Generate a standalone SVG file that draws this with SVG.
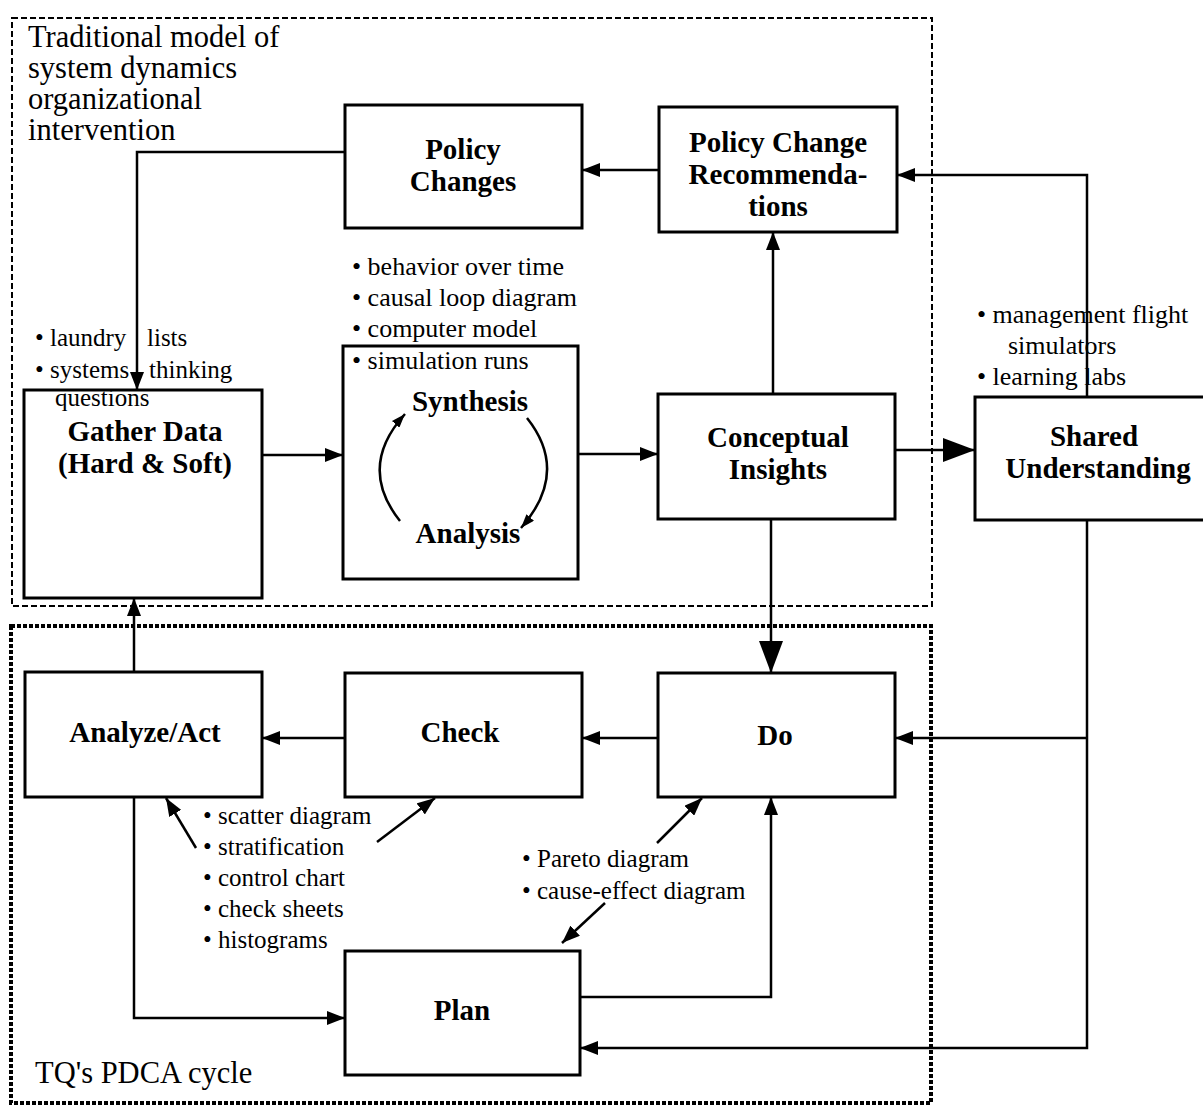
<svg xmlns="http://www.w3.org/2000/svg" width="1203" height="1108" viewBox="0 0 1203 1108">
<style>
.node{fill:#fff;stroke:#000;stroke-width:3}
.lbl{font-family:"Liberation Serif","Times New Roman",serif;font-weight:bold;font-size:29px;text-anchor:middle;fill:#000}
.txt{font-family:"Liberation Serif","Times New Roman",serif;font-size:25px;fill:#000}
.txt2{font-family:"Liberation Serif","Times New Roman",serif;font-size:26px;fill:#000}
.ttl{font-family:"Liberation Serif","Times New Roman",serif;font-size:30.5px;fill:#000}
.con{fill:none;stroke:#000;stroke-width:2.5}
</style>
<defs>
<marker id="ah" markerUnits="userSpaceOnUse" markerWidth="20" markerHeight="14" refX="18" refY="7" orient="auto"><path d="M0,0 L18,7 L0,14 z" fill="#000"/></marker>
<marker id="ahb" markerUnits="userSpaceOnUse" markerWidth="34" markerHeight="24" refX="32" refY="12" orient="auto"><path d="M0,0 L32,12 L0,24 z" fill="#000"/></marker>
<marker id="ahs" markerUnits="userSpaceOnUse" markerWidth="16" markerHeight="10" refX="14" refY="5" orient="auto"><path d="M0,0 L14,5 L0,10 z" fill="#000"/></marker>
</defs>
<g id="regions">
<rect x="12" y="18" width="920" height="588" fill="none" stroke="#000" stroke-width="2" stroke-dasharray="6 3"/>
<rect x="11" y="626" width="920" height="477" fill="none" stroke="#000" stroke-width="4" stroke-dasharray="4 2"/>
<text class="ttl" x="28" y="47">Traditional model of</text>
<text class="ttl" x="28" y="78">system dynamics</text>
<text class="ttl" x="28" y="109">organizational</text>
<text class="ttl" x="28" y="140">intervention</text>
<text class="ttl" x="35" y="1083">TQ's PDCA cycle</text>
</g>
<g id="policy-changes">
<rect class="node" x="345" y="105" width="237" height="123"/>
<text class="lbl" x="463" y="159">Policy</text>
<text class="lbl" x="463" y="191">Changes</text>
</g>
<g id="policy-change-recommendations">
<rect class="node" x="659" y="107" width="238" height="125"/>
<text class="lbl" x="778" y="152">Policy Change</text>
<text class="lbl" x="778" y="184">Recommenda-</text>
<text class="lbl" x="778" y="216">tions</text>
</g>
<g id="gather-data">
<rect class="node" x="24" y="390" width="238" height="208"/>
<text class="lbl" x="145" y="441">Gather Data</text>
<text class="lbl" x="145" y="473">(Hard &amp; Soft)</text>
</g>
<g id="synthesis-analysis">
<rect class="node" x="343" y="346" width="235" height="233"/>
<text class="lbl" x="470" y="411">Synthesis</text>
<text class="lbl" x="468" y="543">Analysis</text>
<path class="con" d="M400,521 Q357,467 405,414" marker-end="url(#ahs)"/>
<path class="con" d="M527,418 Q570,472 521,528" marker-end="url(#ahs)"/>
</g>
<g id="conceptual-insights">
<rect class="node" x="658" y="394" width="237" height="125"/>
<text class="lbl" x="778" y="447">Conceptual</text>
<text class="lbl" x="778" y="479">Insights</text>
</g>
<g id="shared-understanding">
<rect class="node" x="975" y="397" width="240" height="123"/>
<text class="lbl" x="1094" y="446">Shared</text>
<text class="lbl" x="1098" y="478">Understanding</text>
</g>
<g id="analyze-act">
<rect class="node" x="25" y="672" width="237" height="125"/>
<text class="lbl" x="145" y="742">Analyze/Act</text>
</g>
<g id="check">
<rect class="node" x="345" y="673" width="237" height="124"/>
<text class="lbl" x="460" y="742">Check</text>
</g>
<g id="do">
<rect class="node" x="658" y="673" width="237" height="124"/>
<text class="lbl" x="775" y="745">Do</text>
</g>
<g id="plan">
<rect class="node" x="345" y="951" width="235" height="124"/>
<text class="lbl" x="462" y="1020">Plan</text>
</g>
<g id="annotations">
<text class="txt2" x="352" y="275">• behavior over time</text>
<text class="txt2" x="352" y="306">• causal loop diagram</text>
<text class="txt2" x="352" y="337">• computer model</text>
<text class="txt2" x="352" y="369">• simulation runs</text>
<text class="txt" x="35" y="346">• laundry</text>
<text class="txt" x="147" y="346">lists</text>
<text class="txt" x="35" y="378">• systems</text>
<text class="txt" x="149" y="378">thinking</text>
<text class="txt" x="55" y="406">questions</text>
<text class="txt2" x="977" y="323">• management flight</text>
<text class="txt2" x="1008" y="354">simulators</text>
<text class="txt2" x="977" y="385">• learning labs</text>
<text class="txt" x="203" y="824">• scatter diagram</text>
<text class="txt" x="203" y="855">• stratification</text>
<text class="txt" x="203" y="886">• control chart</text>
<text class="txt" x="203" y="917">• check sheets</text>
<text class="txt" x="203" y="948">• histograms</text>
<text class="txt" x="522" y="867">• Pareto diagram</text>
<text class="txt" x="522" y="899">• cause-effect diagram</text>
</g>
<g id="connectors">
<path class="con" d="M659,170 L582,170" marker-end="url(#ah)"/>
<path class="con" d="M345,152 L137,152 L137,390" marker-end="url(#ah)"/>
<path class="con" d="M262,455 L343,455" marker-end="url(#ah)"/>
<path class="con" d="M578,454 L658,454" marker-end="url(#ah)"/>
<path class="con" d="M773,394 L773,232" marker-end="url(#ah)"/>
<path class="con" d="M771,519 L771,673" marker-end="url(#ahb)" stroke-width="3"/>
<path class="con" d="M895,450 L975,450" marker-end="url(#ahb)"/>
<path class="con" d="M1087,397 L1087,175 L897,175" marker-end="url(#ah)"/>
<path class="con" d="M1087,520 L1087,1048 L580,1048" marker-end="url(#ah)"/>
<path class="con" d="M1087,738 L895,738" marker-end="url(#ah)"/>
<path class="con" d="M658,738 L582,738" marker-end="url(#ah)"/>
<path class="con" d="M345,738 L262,738" marker-end="url(#ah)"/>
<path class="con" d="M134,672 L134,598" marker-end="url(#ah)"/>
<path class="con" d="M134,797 L134,1018 L345,1018" marker-end="url(#ah)"/>
<path class="con" d="M580,997 L771,997 L771,797" marker-end="url(#ah)"/>
<path class="con" d="M196,848 L166,798" marker-end="url(#ah)"/>
<path class="con" d="M377,842 L435,798" marker-end="url(#ah)"/>
<path class="con" d="M657,843 L702,798" marker-end="url(#ah)"/>
<path class="con" d="M605,903 L562,943" marker-end="url(#ah)"/>
</g>
</svg>
